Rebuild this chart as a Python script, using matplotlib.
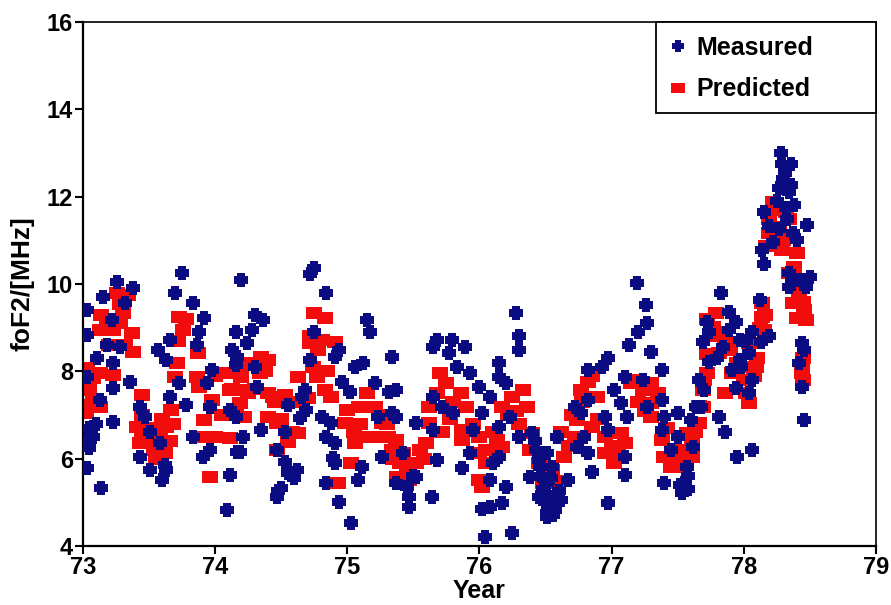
import matplotlib
matplotlib.use("Agg")
import matplotlib.pyplot as plt
from matplotlib.patches import Rectangle
from matplotlib.lines import Line2D

# Measured foF2 (year, MHz)
measured_year = [
    73.75, 73.26, 73.38, 73.15, 73.32, 73.70, 73.83, 73.03, 73.92, 73.22, 74.20, 74.16,
    73.03, 73.88, 73.66, 73.18, 73.28, 73.57, 73.86, 74.13, 73.11, 73.23, 73.63, 73.98,
    74.16, 73.03, 73.36, 73.73, 73.94, 73.23, 73.66, 73.78, 73.13, 73.43, 73.96, 74.11,
    73.47, 73.23, 73.05, 74.16, 73.08, 73.51, 73.83, 73.05, 73.96, 74.17, 73.43, 73.58,
    73.91, 73.03, 73.51, 73.63, 74.11, 73.60, 73.14, 74.09,
    73.06, 73.10, 73.04, 73.62,
    74.75, 74.72, 74.84, 74.30, 74.36, 75.15, 75.17, 74.28, 74.75, 74.24, 74.94, 74.91,
    75.34, 75.12, 75.06, 74.17, 74.30, 74.72, 74.96, 75.02, 75.32, 75.21, 74.32, 74.68,
    74.66, 74.55, 74.69, 74.64, 74.81, 74.88, 75.23, 75.34, 74.35, 74.53, 74.21, 74.84,
    74.91, 74.19, 74.47, 75.26, 74.89, 74.53, 74.62, 74.55, 74.91, 75.11, 75.08, 74.84,
    74.50, 74.47, 74.94, 75.03, 75.37,
    74.48, 74.60,
    76.28, 76.30, 76.30, 75.68, 75.79, 75.89, 75.65, 75.77, 76.15, 75.83, 75.93, 76.15,
    76.20, 76.00, 76.08, 75.37, 75.65, 75.72, 75.80, 76.02, 76.23, 75.37, 75.52, 75.65,
    75.95, 76.15, 76.30, 76.43, 76.45, 75.42, 75.68, 75.93, 76.10, 75.87, 76.15, 75.52,
    76.38, 76.08, 76.20, 76.51, 75.47, 75.64, 75.47, 76.08, 76.17, 76.45, 76.51, 76.04,
    76.25, 76.40, 76.02,
    75.45, 75.50, 76.42, 76.46,
    77.19, 77.26, 77.27, 77.20, 77.13, 77.30, 76.97, 76.93, 77.38, 76.82, 77.10, 77.24,
    77.02, 76.72, 76.82, 77.07, 77.38, 76.77, 76.95, 77.12, 77.27, 77.40, 77.50, 77.60,
    77.68, 77.38, 77.50, 76.97, 76.79, 76.59, 76.74, 76.82, 77.10, 77.62, 77.45, 76.51,
    77.57, 76.55, 76.67, 76.85, 77.10, 77.40, 77.53, 76.55, 76.57, 76.97, 76.51, 77.70,
    76.48, 76.53, 76.60, 76.47, 77.55, 77.58,
    76.50, 76.56, 76.54, 76.62, 77.52, 77.58,
    78.28, 78.29, 78.36, 78.31, 78.27, 78.36, 78.34, 78.32, 78.15, 78.48, 78.19, 78.27,
    78.37, 78.40, 78.14, 78.22, 78.15, 78.34, 78.42, 78.50, 78.47, 78.34, 78.44, 78.46,
    78.42, 78.44, 78.46, 77.83, 77.89, 78.12, 77.72, 77.94, 78.19, 77.74, 77.89, 78.06,
    77.97, 78.13, 77.84, 77.69, 78.04, 77.97, 77.74, 77.91, 77.66, 78.06, 77.94, 78.04,
    77.64, 77.81, 77.86, 78.06, 77.95,
    78.30, 78.33, 78.38, 78.25, 77.80, 77.98, 78.02,
]
measured_foF2 = [
    10.25, 10.05, 9.92, 9.71, 9.57, 9.80, 9.57, 9.41, 9.23, 9.18, 10.10, 8.91,
    8.84, 8.91, 8.72, 8.61, 8.56, 8.50, 8.61, 8.50, 8.31, 8.20, 8.27, 8.04,
    8.15, 7.88, 7.76, 7.74, 7.74, 7.62, 7.42, 7.23, 7.35, 7.19, 7.19, 7.12,
    6.96, 6.84, 6.71, 6.96, 6.50, 6.61, 6.50, 6.25, 6.20, 6.16, 6.04, 6.36,
    6.04, 5.79, 5.74, 5.74, 5.63, 5.51, 5.33, 4.83,
    6.55, 6.80, 6.40, 5.85,
    10.37, 10.22, 9.80, 9.30, 9.18, 9.18, 8.91, 8.95, 8.91, 8.65, 8.50, 8.34,
    8.34, 8.20, 8.11, 8.34, 8.11, 8.27, 7.76, 7.53, 7.53, 7.74, 7.65, 7.58,
    7.42, 7.23, 7.12, 6.94, 6.96, 6.82, 6.96, 7.05, 6.66, 6.61, 6.50, 6.50,
    6.36, 6.16, 6.20, 6.04, 6.01, 5.92, 5.74, 5.67, 5.90, 5.81, 5.51, 5.44,
    5.33, 5.12, 5.01, 4.53, 5.44,
    5.25, 5.55,
    9.34, 8.80, 8.50, 8.72, 8.72, 8.56, 8.56, 8.43, 8.20, 8.11, 7.97, 7.88,
    7.74, 7.65, 7.42, 7.58, 7.42, 7.19, 7.05, 7.05, 6.96, 6.96, 6.82, 6.66,
    6.66, 6.73, 6.50, 6.20, 5.97, 6.13, 5.97, 6.13, 5.90, 5.79, 6.04, 5.58,
    5.58, 5.51, 5.35, 5.44, 5.12, 5.12, 4.90, 4.90, 4.98, 5.12, 4.76, 4.21,
    4.30, 6.59, 4.85,
    5.35, 5.60, 6.40, 5.80,
    10.03, 9.53, 9.11, 8.91, 8.61, 8.45, 8.31, 8.11, 8.04, 8.04, 7.88, 7.81,
    7.58, 7.19, 7.35, 7.28, 7.35, 7.05, 6.96, 6.96, 7.19, 6.96, 7.05, 6.89,
    7.19, 6.66, 6.50, 6.66, 6.50, 6.50, 6.27, 6.13, 6.04, 6.27, 6.20, 6.13,
    5.81, 5.81, 5.51, 5.70, 5.63, 5.44, 5.21, 5.12, 4.83, 4.98, 4.67, 7.58,
    5.30, 4.95, 5.25, 5.60, 5.45, 5.60,
    5.00, 4.70, 5.55, 5.05, 5.40, 5.30,
    13.01, 12.74, 12.74, 12.55, 12.21, 12.28, 12.10, 11.75, 11.66, 11.36, 11.32, 11.25,
    11.18, 11.02, 10.79, 10.97, 10.45, 10.26, 10.10, 10.17, 9.94, 9.94, 8.65, 8.50,
    8.20, 7.65, 6.89, 9.80, 9.37, 9.64, 9.14, 9.14, 8.80, 8.91, 8.95, 8.91,
    8.72, 8.68, 8.56, 8.68, 8.43, 8.27, 8.22, 8.04, 7.81, 7.81, 7.62, 7.51,
    7.19, 6.96, 6.61, 6.20, 6.04,
    12.40, 11.50, 11.80, 11.90, 8.30, 8.10, 8.70,
]

# Predicted foF2 (year, MHz)
predicted_year = [
    73.26, 73.14, 73.30, 73.23, 73.37, 73.38, 73.03, 73.13, 73.23, 73.05, 73.13, 73.05,
    73.45, 73.41, 73.52, 73.63, 73.67, 73.43, 73.54, 73.62, 73.73, 73.76, 73.71, 73.70,
    73.87, 73.86, 73.88, 73.98, 73.92, 73.92, 74.11, 73.96, 74.11, 74.09, 74.16, 73.13,
    73.02, 73.08, 73.08, 73.02, 73.18, 73.28, 73.20, 73.32, 73.28, 73.34,
    73.45, 73.50, 73.58, 73.66, 73.60, 73.55, 73.45, 73.68, 73.72, 73.78,
    74.00, 74.05, 74.13, 74.20, 74.00,
    74.75, 74.83, 74.72, 74.81, 74.91, 74.35, 74.28, 74.40, 74.34, 74.20, 74.74, 74.77,
    74.63, 74.40, 74.53, 74.20, 74.22, 74.19, 74.83, 74.88, 74.40, 74.47, 74.63, 74.55,
    74.47, 74.98, 75.00, 75.09, 75.06, 75.15, 75.21, 75.26, 75.15, 75.31, 75.34, 75.03,
    74.93, 75.38, 74.44,
    74.25, 74.30, 74.38, 74.45, 74.50, 74.58, 74.60, 74.70, 74.78, 74.72, 74.85,
    75.05, 75.10, 75.20, 75.25, 75.30, 75.35, 75.40,
    75.70, 75.75, 75.86, 75.90, 75.62, 75.62, 75.87, 75.87, 76.00, 76.13, 76.17, 76.00,
    76.25, 76.33, 76.36, 76.17, 76.40, 76.38, 76.45, 76.51, 75.37, 75.42, 75.49, 75.47,
    75.55, 75.60, 76.00, 76.02,
    75.45, 75.52, 75.58, 75.68, 75.80, 75.78, 75.72, 75.95, 76.05, 76.10, 76.05,
    76.28, 76.30, 76.22, 76.48, 76.52, 76.58, 76.48,
    76.82, 76.77, 76.89, 76.74, 76.72, 76.64, 76.55, 76.55, 76.85, 76.95, 76.95, 77.07,
    77.10, 77.02, 77.15, 77.24, 77.30, 77.30, 77.30, 77.38, 77.40, 77.45, 77.55, 77.57,
    77.72,
    76.68, 76.70, 76.78, 76.85, 76.62, 76.90, 77.00, 77.05, 77.20, 77.25, 77.18, 77.35,
    77.42, 77.48, 77.50, 77.55, 77.63, 77.66, 77.70, 77.72, 77.75,
    78.22, 78.32, 78.19, 78.34, 78.19, 78.34, 78.17, 78.29, 78.40, 78.34, 78.40, 78.37,
    78.46, 78.40, 78.47, 78.44, 78.44, 78.14, 78.14, 78.15, 77.79, 77.77, 77.86, 77.81,
    78.04, 77.99, 78.09, 77.91, 77.86, 78.02, 78.04, 77.72, 77.69, 77.69, 77.66, 77.61,
    77.61,
    77.82, 77.90, 77.95, 78.00, 78.08, 78.10, 78.12, 78.16, 78.25, 78.27, 78.23, 78.30,
    78.42, 78.45, 78.38, 78.45, 78.45,
]
predicted_foF2 = [
    9.80, 9.30, 9.34, 8.95, 8.88, 8.45, 8.08, 7.97, 7.92, 7.58, 7.19, 7.23,
    7.46, 6.73, 6.71, 6.73, 7.12, 6.36, 6.20, 6.13, 9.25, 8.95, 8.20, 7.88,
    8.43, 7.88, 7.65, 7.35, 6.89, 6.50, 6.48, 5.58, 7.58, 7.97, 7.12, 8.95,
    7.75, 7.85, 7.35, 7.05, 9.05, 9.10, 8.60, 8.60, 9.55, 9.75,
    6.55, 6.40, 6.50, 6.40, 6.90, 6.00, 7.00, 6.80, 8.70, 9.20,
    6.50, 7.00, 7.60, 8.10, 7.90,
    9.34, 9.23, 8.65, 8.72, 8.68, 8.34, 8.20, 8.27, 7.97, 7.88, 8.11, 7.88,
    7.88, 7.51, 7.46, 7.58, 6.96, 7.28, 7.58, 7.42, 6.96, 6.82, 6.59, 6.38,
    6.20, 6.82, 7.12, 7.19, 6.36, 7.51, 7.19, 6.82, 6.50, 6.50, 6.20, 5.90,
    5.44, 5.58, 7.42,
    7.50, 7.60, 8.00, 7.30, 6.90, 6.60, 7.30, 7.40, 8.50, 8.80, 8.00,
    6.60, 6.80, 6.50, 7.00, 6.80, 6.00, 5.90,
    7.97, 7.74, 7.51, 7.19, 7.19, 6.82, 6.66, 6.43, 6.50, 6.43, 6.27, 6.13,
    7.42, 7.58, 7.19, 7.19, 6.59, 6.20, 5.90, 5.58, 6.43, 6.13, 5.90, 5.51,
    6.20, 6.36, 5.51, 5.35,
    5.70, 5.90, 6.00, 7.50, 7.30, 6.90, 6.60, 6.80, 6.20, 6.60, 5.90,
    7.10, 6.80, 7.00, 6.00, 5.80, 5.50, 5.45,
    7.76, 7.58, 7.42, 6.89, 6.50, 6.04, 5.74, 5.44, 6.73, 6.50, 6.13, 6.59,
    6.36, 5.90, 7.74, 7.58, 7.74, 7.28, 6.96, 6.43, 6.04, 5.81, 6.20, 6.59,
    9.20,
    6.30, 7.00, 7.30, 7.90, 6.60, 6.90, 6.30, 6.10, 7.30, 7.10, 7.80, 7.50,
    6.70, 6.20, 5.95, 5.80, 6.60, 7.20, 7.80, 8.40, 8.80,
    11.87, 11.64, 11.48, 11.48, 11.18, 11.09, 10.86, 10.79, 10.72, 10.26, 9.94, 9.57,
    9.41, 9.23, 9.18, 8.11, 7.97, 9.57, 9.25, 8.95, 9.34, 9.02, 8.72, 8.43,
    8.65, 8.11, 8.11, 7.97, 7.51, 7.51, 7.28, 7.97, 7.58, 7.19, 6.82, 6.43,
    6.04,
    8.90, 8.50, 8.20, 7.80, 7.90, 8.30, 9.00, 9.30, 11.70, 11.30, 10.90, 11.00,
    9.80, 9.60, 10.40, 8.30, 7.80,
]

x_ticks = [73, 74, 75, 76, 77, 78, 79]
y_ticks = [4, 6, 8, 10, 12, 14, 16]

plt.rcParams["font.family"] = ["Liberation Sans", "DejaVu Sans"]
plt.rcParams["font.weight"] = "bold"

BLUE = "#0b0b82"
RED = "#f20c0c"

# flat rectangle for the predicted values, fat cross for the measured ones
rect_marker = [(-1, -0.72), (1, -0.72), (1, 0.72), (-1, 0.72), (-1, -0.72)]
a = 0.5
cross_marker = [(-1, -a), (-a, -a), (-a, -1), (a, -1), (a, -a), (1, -a),
                (1, a), (a, a), (a, 1), (-a, 1), (-a, a), (-1, a), (-1, -a)]

fig = plt.figure(figsize=(8.91, 6.05), dpi=100)
ax = fig.add_axes([0.093, 0.0975, 0.890, 0.866])

ax.plot(predicted_year, predicted_foF2, linestyle="none",
        marker=rect_marker, markersize=12, color=RED,
        markeredgewidth=0, zorder=2)
ax.plot(measured_year, measured_foF2, linestyle="none",
        marker=cross_marker, markersize=10.5, color=BLUE,
        markeredgewidth=0, zorder=3)

ax.set_xlim(73, 79)
ax.set_ylim(4, 16)
ax.set_xticks(x_ticks)
ax.set_yticks(y_ticks)
ax.set_xticklabels([str(t) for t in x_ticks], fontsize=17, fontweight="bold")
ax.set_yticklabels([str(t) for t in y_ticks], fontsize=17, fontweight="bold")
ax.tick_params(direction="out", length=6, width=1.5, pad=1, top=False, right=False)

ax.set_xlabel("Year", fontsize=18, fontweight="bold", labelpad=0)
ax.set_ylabel("foF2/[MHz]", fontsize=19, fontweight="bold", labelpad=9)

for side in ("left", "bottom"):
    ax.spines[side].set_linewidth(1.6)
for side in ("top", "right"):
    ax.spines[side].set_linewidth(1.2)
for sp in ax.spines.values():
    sp.set_color("black")

# legend box in the upper right corner
box_x0, box_y0 = 0.7226, 0.826
ax.add_patch(Rectangle((box_x0, box_y0), 1 - box_x0, 1 - box_y0,
                       transform=ax.transAxes, facecolor="white",
                       edgecolor="black", linewidth=1.3, zorder=5,
                       clip_on=False))
handles = [
    Line2D([], [], linestyle="none", marker=cross_marker, markersize=9,
           color=BLUE, markeredgewidth=0),
    Line2D([], [], linestyle="none", marker=rect_marker, markersize=10.5,
           color=RED, markeredgewidth=0),
]
leg = ax.legend(handles, ["Measured", "Predicted"], loc="upper left",
                bbox_to_anchor=(box_x0 - 0.004, 1.0), frameon=False,
                prop={"size": 18, "weight": "bold"},
                handlelength=0.9, handletextpad=0.3, borderpad=0.55,
                labelspacing=0.7, borderaxespad=0)
leg.set_zorder(6)

fig.savefig("out.png", dpi=100, facecolor="white")
